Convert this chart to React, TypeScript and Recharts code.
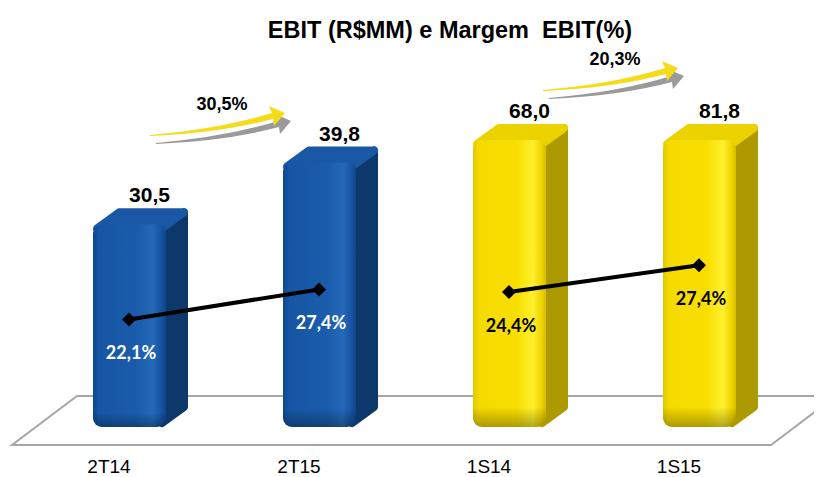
import React from 'react';
import { ComposedChart, Bar, Line, XAxis, YAxis, Cell, LabelList } from 'recharts';

// ---------- data ----------
const categories = ['2T14', '2T15', '1S14', '1S15'];
const ebit = [30.5, 39.8, 68.0, 81.8];
const marginQuarter = [22.1, 27.4]; // 2T14, 2T15
const marginSemester = [24.4, 27.4]; // 1S14, 1S15
const growthLabels = ['30,5%', '20,3%'];
const title = 'EBIT (R$MM) e Margem  EBIT(%)';

// the original chart breaks the EBIT axis above this value
const EBIT_AXIS_MAX = 43.2;

const data = categories.map((name, i) => ({
  name,
  ebit: ebit[i],
  ebitBar: Math.min(ebit[i], EBIT_AXIS_MAX),
  mQ: i < marginQuarter.length ? marginQuarter[i] : null,
  mS: i >= marginQuarter.length ? marginSemester[i - marginQuarter.length] : null,
}));

// ---------- styles ----------
const BLUE = {
  id: 'blue',
  stops: ['#0e4790', '#1656a4', '#1a5cab', '#2469b8', '#1553a0', '#0f4488'],
  top: '#1a58a6',
  side: '#0d386c',
};
const YELLOW = {
  id: 'yellow',
  stops: ['#e2c800', '#f5da00', '#f8df00', '#fff02e', '#efd400', '#d6bd00'],
  top: '#ecd300',
  side: '#ad9a00',
};
const palettes = [BLUE, BLUE, YELLOW, YELLOW];

const DX = 22;
const DY = 16;
const fmt = (v: number) => v.toFixed(1).replace('.', ',');

function Bar3D(props: any) {
  const { x, y, width, height, index } = props;
  if (x == null || height == null) return null;
  const pal = palettes[index];
  const W = width;
  const top = y;
  const bottom = y + height;
  const ins = 4;
  const gid = `g-${pal.id}-${index}`;
  const sid = `s-${index}`;
  const sidePts = [
    [x + W - ins, top + ins],
    [x + W + DX - ins, top - DY + ins],
    [x + W + DX - ins, bottom - DY - ins],
    [x + W - ins, bottom - ins],
  ]
    .map((p) => p.join(','))
    .join(' ');
  const topPts = [
    [x + ins, top + ins],
    [x + DX + ins, top - DY + ins],
    [x + W + DX - ins, top - DY + ins],
    [x + W - ins, top + ins],
  ]
    .map((p) => p.join(','))
    .join(' ');
  const offs = [0, 0.08, 0.6, 0.82, 0.94, 1];
  return (
    <g>
      <defs>
        <linearGradient id={gid} x1="0" y1="0" x2="1" y2="0">
          {pal.stops.map((c, i) => (
            <stop key={i} offset={offs[i]} stopColor={c} />
          ))}
        </linearGradient>
        <linearGradient id={sid} x1="0" y1="0" x2="0" y2="1">
          <stop offset="0" stopColor="#000" stopOpacity={0} />
          <stop offset="0.93" stopColor="#000" stopOpacity={0} />
          <stop offset="1" stopColor="#000" stopOpacity={0.3} />
        </linearGradient>
      </defs>
      <polygon points={sidePts} fill={pal.side} stroke={pal.side} strokeWidth={ins * 2} strokeLinejoin="round" />
      <polygon points={topPts} fill={pal.top} stroke={pal.top} strokeWidth={ins * 2} strokeLinejoin="round" />
      <rect x={x} y={top} width={W} height={bottom - top} rx={9} ry={9} fill={`url(#${gid})`} />
      <rect x={x} y={top} width={W} height={bottom - top} rx={9} ry={9} fill={`url(#${sid})`} />
    </g>
  );
}

function ValueLabel(props: any) {
  const { x, y, width, value } = props;
  if (value == null) return null;
  return (
    <text
      x={x + width / 2 + 20}
      y={y - 22}
      textAnchor="middle"
      fontFamily="'Liberation Sans', Arial, sans-serif"
      fontWeight="bold"
      fontSize={21}
      fill="#000"
    >
      {fmt(value)}
    </text>
  );
}

function Diamond(props: any) {
  const { cx, cy, value } = props;
  if (cx == null || cy == null || value == null) return null;
  const s = 7;
  return (
    <polygon
      points={`${cx},${cy - s} ${cx + s},${cy} ${cx},${cy + s} ${cx - s},${cy}`}
      fill="#000"
    />
  );
}

const makePctLabel = (color: string) => (props: any) => {
  const { x, y, value } = props;
  if (value == null || x == null) return null;
  return (
    <text
      x={x + 2}
      y={y + 40}
      textAnchor="middle"
      fontFamily="Lato, 'Noto Sans', sans-serif"
      fontWeight="bold"
      fontSize={18}
      fill={color}
    >
      {fmt(value)}%
    </text>
  );
};

function Tick(props: any) {
  const { x, y, payload } = props;
  return (
    <text
      x={x - 20}
      y={y + 38}
      textAnchor="middle"
      fontFamily="'Liberation Sans', Arial, sans-serif"
      fontSize={19}
      fill="#000"
    >
      {payload.value}
    </text>
  );
}

// decorative growth arrow (relative to its tail)
function GrowthArrow({ tx, ty, label }: { tx: number; ty: number; label: string }) {
  const body = (dx: number, dy: number, fill: string) => (
    <path
      transform={`translate(${tx + dx},${ty + dy})`}
      d="M0,0 Q70,-6 122,-22 L119,-29 L135,-22 L124,-9 L123,-16 Q70,-2 0,1 Z"
      fill={fill}
    />
  );
  return (
    <g>
      {body(6, 8, '#9a9a9a')}
      {body(0, 0, '#f5dc1a')}
      <text
        x={tx + 72}
        y={ty - 25}
        textAnchor="middle"
        fontFamily="'Liberation Sans', Arial, sans-serif"
        fontWeight="bold"
        fontSize={18}
        fill="#000"
      >
        {label}
      </text>
    </g>
  );
}

export default function App() {
  return (
    <div style={{ position: 'relative', width: 814, height: 469 }}>
      <svg
        width={822}
        height={477}
        style={{ position: 'absolute', left: -8, top: -8, zIndex: 0 }}
      >
        <polygon
          points="77,396 836,396 771,445 12,445"
          fill="#fff"
          stroke="#a6a6a6"
          strokeWidth={2}
        />
      </svg>
      <div style={{ position: 'absolute', left: 0, top: 0, zIndex: 1 }}>
        <ComposedChart
          width={814}
          height={469}
          data={data}
          margin={{ top: 132, right: 28, bottom: 20, left: 26 }}
          barCategoryGap={0}
        >
          <XAxis dataKey="name" axisLine={false} tickLine={false} height={30} tick={<Tick />} interval={0} />
          <YAxis yAxisId="ebit" hide domain={[0, EBIT_AXIS_MAX]} />
          <YAxis yAxisId="mQ" hide domain={[3.1, 53.8]} allowDataOverflow />
          <YAxis yAxisId="mS" hide domain={[9.2, 41.5]} allowDataOverflow />
          <Bar yAxisId="ebit" dataKey="ebitBar" barSize={73} shape={<Bar3D />} isAnimationActive={false}>
            {data.map((d, i) => (
              <Cell key={d.name} fill={palettes[i].top} />
            ))}
            <LabelList dataKey="ebit" content={ValueLabel} />
          </Bar>
          <Line
            yAxisId="mQ"
            dataKey="mQ"
            stroke="#000"
            strokeWidth={4}
            dot={<Diamond />}
            activeDot={false}
            isAnimationActive={false}
          >
            <LabelList dataKey="mQ" content={makePctLabel('#ffffff')} />
          </Line>
          <Line
            yAxisId="mS"
            dataKey="mS"
            stroke="#000"
            strokeWidth={4}
            dot={<Diamond />}
            activeDot={false}
            isAnimationActive={false}
          >
            <LabelList dataKey="mS" content={makePctLabel('#000000')} />
          </Line>
        </ComposedChart>
      </div>
      <svg
        width={822}
        height={477}
        style={{ position: 'absolute', left: -8, top: -8, zIndex: 2, pointerEvents: 'none' }}
      >
        <text
          x={450}
          y={38}
          textAnchor="middle"
          fontFamily="'Liberation Sans', Arial, sans-serif"
          fontWeight="bold"
          fontSize={23.5}
          fill="#000"
          style={{ whiteSpace: 'pre' }}
        >
          {title}
        </text>
        <GrowthArrow tx={150} ty={135} label={growthLabels[0]} />
        <GrowthArrow tx={543} ty={90} label={growthLabels[1]} />
      </svg>
    </div>
  );
}
